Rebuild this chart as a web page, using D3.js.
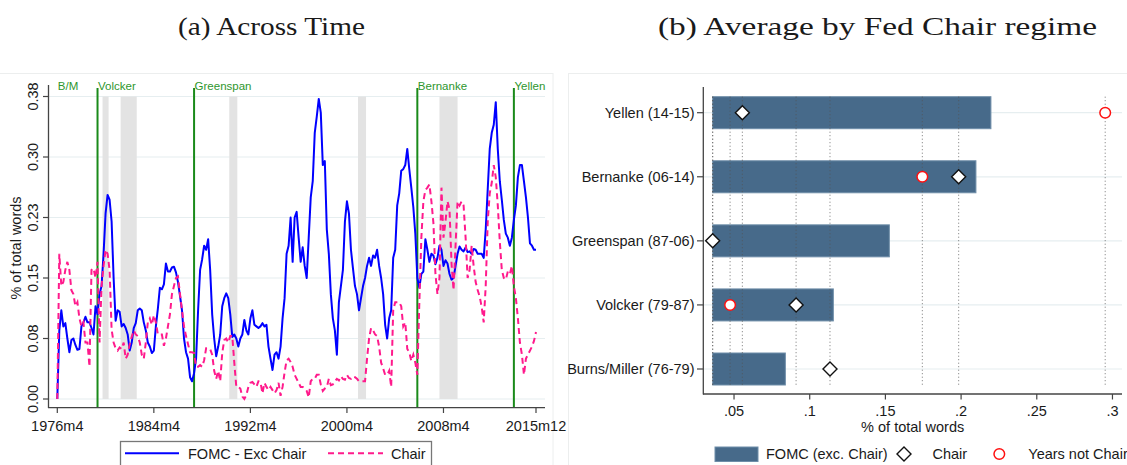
<!DOCTYPE html>
<html><head><meta charset="utf-8">
<script src="https://cdn.jsdelivr.net/npm/d3@7"></script>
<style>
body{margin:0;background:#fff}
svg{display:block}
text{font-family:"Liberation Sans",Arial,sans-serif;fill:#1a1a1a}
</style>
</head><body>
<svg id="c" width="1127" height="465"></svg>
<script>
// ---------- Panel (a) data: bimonthly from 1976m4 to 2015m12 (rows = Apr..Feb of each year) ----------
const seriesStart = "1976m4";
const seriesStepMonths = 2;
const fomcExcChair = [
  0.0, 0.085, 0.11, 0.09, 0.094, 0.075,
  0.058, 0.073, 0.075, 0.067, 0.061, 0.062,
  0.09, 0.095, 0.102, 0.095, 0.095, 0.088,
  0.08, 0.115, 0.105, 0.13, 0.14, 0.18,
  0.23, 0.253, 0.247, 0.22, 0.15, 0.097,
  0.11, 0.108, 0.09, 0.093, 0.088, 0.08,
  0.06, 0.07, 0.088, 0.094, 0.11, 0.112,
  0.11, 0.095, 0.085, 0.07, 0.065, 0.057,
  0.06, 0.09, 0.112, 0.138, 0.136, 0.142,
  0.168, 0.158, 0.158, 0.163, 0.164, 0.157,
  0.145, 0.128, 0.11, 0.075, 0.058, 0.05,
  0.027, 0.022, 0.032, 0.05, 0.11, 0.16,
  0.173, 0.19, 0.185, 0.198, 0.16, 0.105,
  0.075, 0.053, 0.065, 0.08, 0.115, 0.125,
  0.131, 0.125, 0.105, 0.077, 0.08, 0.075,
  0.065, 0.075, 0.08, 0.098, 0.085, 0.08,
  0.1, 0.11, 0.092, 0.09, 0.088, 0.09,
  0.094, 0.09, 0.092, 0.065, 0.05, 0.036,
  0.055, 0.058, 0.05, 0.065, 0.1, 0.125,
  0.18, 0.19, 0.225, 0.17, 0.225, 0.232,
  0.2, 0.17, 0.188, 0.165, 0.15, 0.2,
  0.25, 0.27, 0.33, 0.35, 0.372, 0.355,
  0.29, 0.295, 0.21, 0.18, 0.13, 0.1,
  0.085, 0.055, 0.12, 0.14, 0.16, 0.22,
  0.245, 0.23, 0.185, 0.162, 0.14, 0.13,
  0.11, 0.125, 0.14, 0.15, 0.165, 0.175,
  0.165, 0.178, 0.175, 0.185, 0.165, 0.15,
  0.13, 0.092, 0.075, 0.1, 0.11, 0.175,
  0.185, 0.24, 0.255, 0.283, 0.285, 0.29,
  0.31, 0.285, 0.262, 0.238, 0.205, 0.15,
  0.138, 0.155, 0.158, 0.198, 0.185, 0.17,
  0.18, 0.178, 0.167, 0.175, 0.19, 0.185,
  0.165, 0.172, 0.168, 0.155, 0.148, 0.15,
  0.165, 0.18, 0.189, 0.185, 0.183, 0.188,
  0.182, 0.183, 0.18, 0.186, 0.185, 0.18,
  0.18, 0.18, 0.175, 0.21, 0.26, 0.31,
  0.33, 0.34, 0.368, 0.31, 0.27, 0.247,
  0.222, 0.205, 0.2, 0.19, 0.2, 0.222,
  0.24, 0.275, 0.29, 0.29, 0.27, 0.25,
  0.225, 0.193, 0.19, 0.185, 0.185
];
const chairSeries = [
  0.0, 0.18, 0.14, 0.145, 0.16, 0.17,
  0.16, 0.135, 0.13, 0.115, 0.12, 0.1,
  0.09, 0.095, 0.07, 0.07, 0.04, 0.16,
  0.162, 0.15, 0.17, 0.07, 0.14, 0.165,
  0.185, 0.18, 0.16, 0.086, 0.07, 0.063,
  0.06, 0.064, 0.062, 0.07, 0.05, 0.055,
  0.068, 0.077, 0.085, 0.08, 0.078, 0.07,
  0.055, 0.05, 0.07, 0.095, 0.1, 0.092,
  0.104, 0.095, 0.08, 0.08, 0.08, 0.066,
  0.075, 0.09, 0.105, 0.13, 0.14, 0.15,
  0.152, 0.13, 0.11, 0.09, 0.078, 0.068,
  0.058, 0.058, 0.057, 0.04, 0.04, 0.042,
  0.04, 0.048, 0.063, 0.063, 0.062, 0.055,
  0.035, 0.025, 0.035, 0.022, 0.057, 0.073,
  0.075, 0.07, 0.078, 0.078, 0.045, 0.015,
  0.015, 0.013, 0.003, 0.0, 0.005, 0.015,
  0.02, 0.021, 0.018, 0.015, 0.022, 0.021,
  0.007, 0.02, 0.015, 0.011, 0.015, 0.011,
  0.007, 0.011, 0.02, 0.004, 0.015, 0.033,
  0.048, 0.05, 0.046, 0.04, 0.03, 0.025,
  0.02, 0.015, 0.015, 0.013, 0.01, 0.002,
  0.022, 0.025, 0.025, 0.03, 0.03, 0.018,
  0.01, 0.013, 0.015, 0.025, 0.017, 0.018,
  0.022, 0.025, 0.023, 0.028, 0.025, 0.024,
  0.03, 0.026, 0.025, 0.028, 0.027, 0.025,
  0.022, 0.022, 0.022, 0.022, 0.05, 0.075,
  0.088, 0.085, 0.08, 0.078, 0.065, 0.045,
  0.038, 0.03, 0.03, 0.035, 0.015, 0.11,
  0.12, 0.12, 0.12, 0.115, 0.09, 0.095,
  0.062, 0.058, 0.047, 0.055, 0.045, 0.03,
  0.12, 0.2, 0.245, 0.259, 0.262, 0.266,
  0.245, 0.218, 0.155, 0.13, 0.15, 0.262,
  0.2, 0.22, 0.245, 0.235, 0.168, 0.135,
  0.19, 0.245, 0.24, 0.245, 0.24, 0.2,
  0.15, 0.16, 0.19, 0.165, 0.145, 0.135,
  0.127, 0.114, 0.095, 0.14, 0.22, 0.255,
  0.268, 0.29, 0.275, 0.24, 0.195, 0.16,
  0.15, 0.148, 0.158, 0.155, 0.165, 0.14,
  0.125, 0.1, 0.07, 0.055, 0.03, 0.05,
  0.055, 0.06, 0.065, 0.072, 0.083
];
const chairNames = ["B/M", "Volcker", "Greenspan", "Bernanke", "Yellen"];
const chairStarts = ["1976m4", "1979m8", "1987m8", "2006m2", "2014m2"];
const recessionStarts = ["1980m1", "1981m7", "1990m7", "2001m3", "2007m12"];
const recessionEnds   = ["1980m7", "1982m11", "1991m3", "2001m11", "2009m6"];
const xTickLabelsA = ["1976m4", "1984m4", "1992m4", "2000m4", "2008m4", "2015m12"];
const yTickValuesA = [0, 0.075, 0.15, 0.225, 0.3, 0.375];
const yTickLabelsA = ["0.00", "0.08", "0.15", "0.23", "0.30", "0.38"];

// ---------- Panel (b) data ----------
const regimes = ["Yellen (14-15)", "Bernanke (06-14)", "Greenspan (87-06)", "Volcker (79-87)", "Burns/Miller (76-79)"];
const fomcAvg = [0.2197, 0.2098, 0.1526, 0.1156, 0.0839];
const chairAvg = [0.0555, 0.1984, 0.0359, 0.0910, 0.1134];
const notChairAvg = [0.2952, 0.1744, null, 0.0474, null];
const xTickValuesB = [0.05, 0.1, 0.15, 0.2, 0.25, 0.3];
const xTickLabelsB = [".05", ".1", ".15", ".2", ".25", ".3"];

// ---------- helpers ----------
function monthIndex(s) {
  const [y, m] = s.split("m").map(Number);
  const [y0, m0] = seriesStart.split("m").map(Number);
  return (y - y0) * 12 + (m - m0);
}
const FS = "14.5px";

const svg = d3.select("#c");

// panel frames
svg.append("rect").attr("x", -2).attr("y", 73.5).attr("width", 555).attr("height", 400)
  .attr("fill", "none").attr("stroke", "#eceeee");
svg.append("rect").attr("x", 568.5).attr("y", 73.5).attr("width", 570).attr("height", 400)
  .attr("fill", "none").attr("stroke", "#eceeee");

// titles
svg.append("text").attr("x", 178).attr("y", 35).text("(a) Across Time")
  .style("font-family", "'Liberation Serif','Times New Roman',serif").style("font-size", "26px")
  .attr("textLength", 187).attr("lengthAdjust", "spacingAndGlyphs");
svg.append("text").attr("x", 658).attr("y", 35).text("(b) Average by Fed Chair regime")
  .style("font-family", "'Liberation Serif','Times New Roman',serif").style("font-size", "26px")
  .attr("textLength", 439).attr("lengthAdjust", "spacingAndGlyphs");

// ================= Panel (a) =================
const xA = d3.scaleLinear().domain([0, 476]).range([57.3, 536]);
const yA = d3.scaleLinear().domain([0, 0.375]).range([399, 96.5]);
const gA = svg.append("g");

// grid
gA.selectAll(".grid").data(yTickValuesA).join("line")
  .attr("x1", 48.5).attr("x2", 545).attr("y1", d => yA(d)).attr("y2", d => yA(d))
  .attr("stroke", "#e6eef0").attr("stroke-width", 1.2);

// recessions
gA.selectAll(".rec").data(recessionStarts).join("rect")
  .attr("x", (d) => xA(monthIndex(d)))
  .attr("width", (d, i) => xA(monthIndex(recessionEnds[i])) - xA(monthIndex(d)))
  .attr("y", yA(0.375)).attr("height", yA(0) - yA(0.375))
  .attr("fill", "#e3e3e3");

// chair lines
gA.selectAll(".chl").data(chairStarts.slice(1)).join("line")
  .attr("x1", d => xA(monthIndex(d))).attr("x2", d => xA(monthIndex(d)))
  .attr("y1", 88).attr("y2", 407.5)
  .attr("stroke", "#1a8a1a").attr("stroke-width", 2);
gA.selectAll(".chn").data(chairNames).join("text")
  .attr("x", (d, i) => xA(monthIndex(chairStarts[i])) + 0.5).attr("y", 89.5)
  .text(d => d).style("font-size", "11.5px").style("fill", "#2e962e");

// axes
gA.append("line").attr("x1", 48.5).attr("x2", 48.5).attr("y1", 85).attr("y2", 408)
  .attr("stroke", "#444").attr("stroke-width", 1.3);
gA.append("line").attr("x1", 48).attr("x2", 545).attr("y1", 407.7).attr("y2", 407.7)
  .attr("stroke", "#444").attr("stroke-width", 1.3);
gA.selectAll(".yt").data(yTickValuesA).join("line")
  .attr("x1", 43).attr("x2", 48.5).attr("y1", d => yA(d)).attr("y2", d => yA(d))
  .attr("stroke", "#444").attr("stroke-width", 1.2);
gA.selectAll(".ytl").data(yTickValuesA).join("text")
  .attr("transform", d => `translate(37.5,${yA(d)}) rotate(-90)`)
  .attr("text-anchor", "middle").text((d, i) => yTickLabelsA[i]).style("font-size", FS);
gA.selectAll(".xt").data(xTickLabelsA).join("line")
  .attr("x1", d => xA(monthIndex(d))).attr("x2", d => xA(monthIndex(d)))
  .attr("y1", 407.7).attr("y2", 413).attr("stroke", "#444").attr("stroke-width", 1.2);
gA.selectAll(".xtl").data(xTickLabelsA).join("text")
  .attr("x", d => xA(monthIndex(d))).attr("y", 430.5)
  .attr("text-anchor", "middle").text(d => d).style("font-size", FS);
gA.append("text").attr("transform", "translate(21,248) rotate(-90)")
  .attr("text-anchor", "middle").text("% of total words").style("font-size", FS);

// series
const lineA = d3.line().x((d, i) => xA(i * seriesStepMonths)).y(d => yA(d));
gA.append("path").datum(fomcExcChair).attr("d", lineA)
  .attr("fill", "none").attr("stroke", "#0000ff").attr("stroke-width", 2).attr("stroke-linejoin", "round");
gA.append("path").datum(chairSeries).attr("d", lineA)
  .attr("fill", "none").attr("stroke", "#ff1a8c").attr("stroke-width", 2)
  .attr("stroke-dasharray", "6,4");

// legend (a)
const lgA = svg.append("g");
lgA.append("rect").attr("x", 120.5).attr("y", 441.5).attr("width", 311).attr("height", 27)
  .attr("fill", "#fff").attr("stroke", "#777").attr("stroke-width", 1.3);
lgA.append("line").attr("x1", 125).attr("x2", 179).attr("y1", 453.3).attr("y2", 453.3)
  .attr("stroke", "#0000ff").attr("stroke-width", 2);
lgA.append("text").attr("x", 188).attr("y", 458.5).text("FOMC - Exc Chair").style("font-size", FS);
lgA.append("line").attr("x1", 328).attr("x2", 383).attr("y1", 453.3).attr("y2", 453.3)
  .attr("stroke", "#ff1a8c").attr("stroke-width", 2).attr("stroke-dasharray", "6,4");
lgA.append("text").attr("x", 391).attr("y", 458.5).text("Chair").style("font-size", FS);

// ================= Panel (b) =================
const xB = d3.scaleLinear().domain([0.0297, 0.3063]).range([703.3, 1122]);
const yB = d3.scalePoint().domain(regimes).range([112.7, 369]);
const barH = 32;
const base = d3.min([...fomcAvg, ...chairAvg, ...notChairAvg.filter(v => v != null)]);
const gB = svg.append("g");

// horizontal grid
gB.selectAll(".gl").data(regimes).join("line")
  .attr("x1", 703.3).attr("x2", 1122).attr("y1", d => yB(d)).attr("y2", d => yB(d))
  .attr("stroke", "#e6eef0").attr("stroke-width", 1.2);

// bars
gB.selectAll(".bar").data(regimes).join("rect")
  .attr("x", xB(base)).attr("y", d => yB(d) - barH / 2)
  .attr("width", (d, i) => xB(fomcAvg[i]) - xB(base)).attr("height", barH)
  .attr("fill", "#476a8a").attr("stroke", "#6f8ea9").attr("stroke-width", 1);

// dotted reference lines at every marker value
const refVals = [base, ...chairAvg, ...notChairAvg.filter(v => v != null)];
gB.selectAll(".ref").data(refVals).join("line")
  .attr("x1", d => xB(d)).attr("x2", d => xB(d))
  .attr("y1", yB(regimes[0]) - barH / 2).attr("y2", yB(regimes[regimes.length - 1]) + barH / 2)
  .attr("stroke", "#555").attr("stroke-width", 1).attr("stroke-dasharray", "1,2.5").attr("opacity", 0.8);

// axes
gB.append("line").attr("x1", 703.3).attr("x2", 703.3).attr("y1", 87).attr("y2", 394.5)
  .attr("stroke", "#444").attr("stroke-width", 1.3);
gB.append("line").attr("x1", 703).attr("x2", 1122).attr("y1", 394).attr("y2", 394)
  .attr("stroke", "#444").attr("stroke-width", 1.3);
gB.selectAll(".yt").data(regimes).join("line")
  .attr("x1", 697).attr("x2", 703.3).attr("y1", d => yB(d)).attr("y2", d => yB(d))
  .attr("stroke", "#444").attr("stroke-width", 1.2);
gB.selectAll(".ytl").data(regimes).join("text")
  .attr("x", 694.5).attr("y", d => yB(d) + 5.2).attr("text-anchor", "end")
  .text(d => d).style("font-size", FS);
gB.selectAll(".xt").data(xTickValuesB).join("line")
  .attr("x1", d => xB(d)).attr("x2", d => xB(d)).attr("y1", 394).attr("y2", 399.5)
  .attr("stroke", "#444").attr("stroke-width", 1.2);
gB.selectAll(".xtl").data(xTickValuesB).join("text")
  .attr("x", d => xB(d)).attr("y", 415.5).attr("text-anchor", "middle")
  .text((d, i) => xTickLabelsB[i]).style("font-size", FS);
gB.append("text").attr("x", 912.7).attr("y", 432).attr("text-anchor", "middle")
  .text("% of total words").style("font-size", FS);

// markers
const diamond = (cx, cy, r) => `M${cx},${cy - r}L${cx + r},${cy}L${cx},${cy + r}L${cx - r},${cy}Z`;
gB.selectAll(".dia").data(regimes).join("path")
  .attr("d", (d, i) => diamond(xB(chairAvg[i]), yB(d), 7))
  .attr("fill", "#fff").attr("stroke", "#111").attr("stroke-width", 1.4);
gB.selectAll(".cir").data(regimes.filter((d, i) => notChairAvg[i] != null)).join("circle")
  .attr("cx", d => xB(notChairAvg[regimes.indexOf(d)])).attr("cy", d => yB(d)).attr("r", 5.3)
  .attr("fill", "#fff").attr("stroke", "#ff1010").attr("stroke-width", 1.5);

// legend (b)
const lgB = svg.append("g");
lgB.append("rect").attr("x", 715).attr("y", 447).attr("width", 43).attr("height", 14.5)
  .attr("fill", "#476a8a").attr("stroke", "#6f8ea9");
lgB.append("text").attr("x", 766).attr("y", 459).text("FOMC (exc. Chair)").style("font-size", FS);
lgB.append("path").attr("d", diamond(904, 454, 7))
  .attr("fill", "#fff").attr("stroke", "#111").attr("stroke-width", 1.4);
lgB.append("text").attr("x", 932.5).attr("y", 459).text("Chair").style("font-size", FS);
lgB.append("circle").attr("cx", 999.3).attr("cy", 454).attr("r", 5.3)
  .attr("fill", "#fff").attr("stroke", "#ff1010").attr("stroke-width", 1.5);
lgB.append("text").attr("x", 1028.3).attr("y", 459).text("Years not Chair").style("font-size", FS);
</script>
</body></html>
